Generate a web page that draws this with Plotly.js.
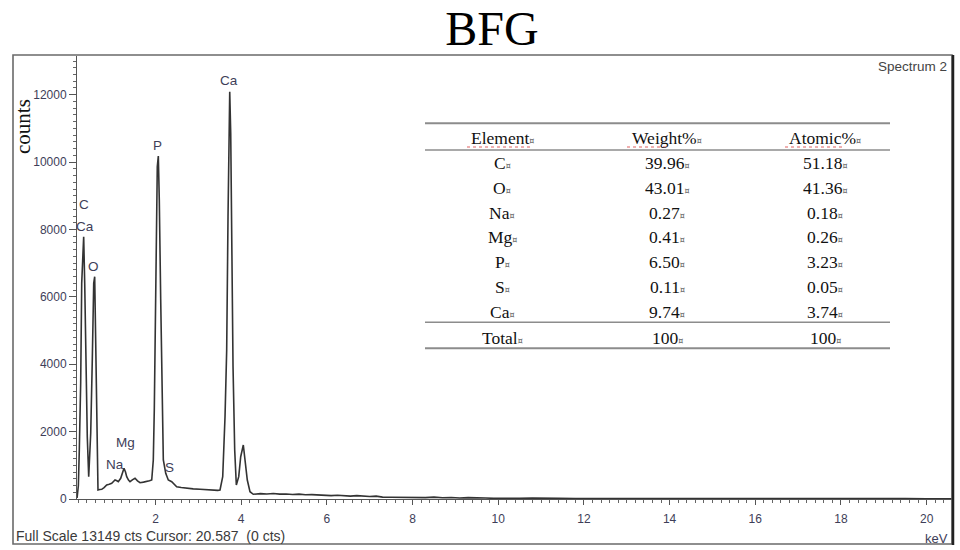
<!DOCTYPE html>
<html>
<head>
<meta charset="utf-8">
<script src="https://cdn.plot.ly/plotly-3.0.1.min.js"></script>
<style>
  html, body { margin: 0; padding: 0; background: #ffffff; }
  #chart { width: 960px; height: 550px; }
</style>
</head>
<body>
<div id="chart"></div>
<script>
// ---- spectrum data (keV, counts) ----
const energy = [
  0.17, 0.20, 0.222, 0.254, 0.278, 0.301, 0.324, 0.348, 0.378, 0.408,
  0.441, 0.488, 0.525, 0.558, 0.581, 0.605, 0.628, 0.658, 0.70, 0.745,
  0.80, 0.861, 0.92, 0.978, 1.02, 1.055, 1.10, 1.132, 1.188, 1.23,
  1.265, 1.30, 1.328, 1.37, 1.405, 1.46, 1.522, 1.58, 1.639, 1.72,
  1.795, 1.86, 1.912, 1.949, 1.972, 1.996, 2.019, 2.042, 2.066, 2.089,
  2.122, 2.152, 2.183, 2.239, 2.299, 2.379, 2.44, 2.495, 2.6, 2.729,
  2.88, 3.039, 3.2, 3.35, 3.45, 3.506, 3.569, 3.623, 3.662, 3.693,
  3.716, 3.733, 3.756, 3.779, 3.810, 3.849, 3.887, 3.943, 3.989, 4.050,
  4.097, 4.143, 4.206, 4.283,
  4.45, 4.6, 4.75, 4.9, 5.05, 5.2, 5.35, 5.5, 5.65, 5.8,
  5.95, 6.1, 6.25, 6.4, 6.55, 6.7, 6.85, 7.0, 7.15, 7.3,
  7.5, 7.7, 7.9, 8.1, 8.3, 8.5, 8.7, 8.9, 9.1, 9.3,
  9.5, 9.7, 9.9, 10.2, 10.5, 10.8, 11.1, 11.4, 11.8, 12.2,
  12.6, 13.0, 13.5, 14.0, 14.5, 15.0, 15.5, 16.0, 16.5, 17.0,
  17.5, 18.0, 18.5, 19.0, 19.5, 20.0, 20.6
];
const counts = [
  30, 400, 1454, 3434, 6402, 7488, 7785, 6402, 3630, 1849,
  662, 1950, 4126, 6402, 6598, 4422, 2146, 267, 280, 288,
  340, 416, 440, 466, 520, 564, 540, 513, 614, 780,
  911, 800, 662, 560, 513, 570, 614, 540, 484, 500,
  513, 540, 564, 1158, 2642, 4918, 8379, 9863, 10180, 8874,
  5906, 2938, 1158, 763, 564, 513, 420, 365, 340, 318,
  300, 288, 270, 246, 255, 267, 662, 2443, 4422, 8379,
  11347, 12089, 10854, 7390, 3927, 1454, 416, 662, 1255, 1603,
  1158, 564, 217, 140,
  160, 150, 165, 145, 150, 135, 145, 125, 130, 115,
  120, 100, 110, 95, 85, 100, 80, 75, 85, 55,
  50, 45, 40, 35, 40, 55, 35, 45, 30, 40,
  25, 30, 20, 30, 20, 25, 15, 20, 15, 20,
  12, 15, 10, 12, 8, 10, 8, 12, 8, 10,
  8, 10, 12, 8, 10, 8, 6
];

// ---- peak labels ----
const peakLabels = ["C", "Ca", "O", "Na", "Mg", "P", "S", "Ca"];
const peakLabelEnergy = [0.331, 0.355, 0.549, 1.055, 1.289, 2.042, 2.323, 3.723];
const peakLabelCounts = [8756, 8103, 6915, 1030, 1671, 10486, 929, 12415];

// ---- composition table ----
const tableHeaders = ["Element", "Weight%", "Atomic%"];
const tableElements = ["C", "O", "Na", "Mg", "P", "S", "Ca"];
const weightPct = ["39.96", "43.01", "0.27", "0.41", "6.50", "0.11", "9.74"];
const atomicPct = ["51.18", "41.36", "0.18", "0.26", "3.23", "0.05", "3.74"];
const totalRow = ["Total", "100", "100"];

// ---- axis info ----
const xRange = [0.168, 20.615];
const yRange = [0, 13149];
const fullScaleText = "Full Scale 13149 cts Cursor: 20.587\u00a0\u00a0(0 cts)";

// ---- layout helpers (pixel -> paper) ----
const W = 960, H = 550;
const M = { l: 77, r: 7, t: 56, b: 51 };
const PW = W - M.l - M.r, PH = H - M.t - M.b;
const px = (x) => (x - M.l) / PW;
const py = (y) => (H - M.b - y) / PH;

const sans = "Liberation Sans, Arial, sans-serif";
const serif = "Liberation Serif, Times New Roman, serif";
const labelColor = "#3e3e58";

const annotations = [];
const shapes = [];

// peak labels
peakLabels.forEach((t, i) => {
  annotations.push({
    x: peakLabelEnergy[i], y: peakLabelCounts[i], xref: "x", yref: "y",
    text: t, showarrow: false, xanchor: "center", yanchor: "middle",
    font: { family: sans, size: 13.5, color: labelColor }
  });
});

// frame
shapes.push({ type: "rect", xref: "paper", yref: "paper",
  x0: px(13), x1: px(952), y0: py(544), y1: py(55),
  line: { color: "#6a6a6a", width: 1.6 } });
shapes.push({ type: "line", xref: "paper", yref: "paper",
  x0: px(953), x1: px(953), y0: py(545), y1: py(55),
  line: { color: "#222222", width: 2.5 } });

// table
const tx0 = px(425), tx1 = px(890);
[[123.3, 2], [150, 1.6], [322.3, 1.6], [348.3, 2]].forEach(([y, w]) => {
  shapes.push({ type: "line", xref: "paper", yref: "paper",
    x0: tx0, x1: tx1, y0: py(y), y1: py(y),
    line: { color: "#8c8c8c", width: w } });
});
// spell-check squiggles under headers
[[467, 530], [627, 668], [785, 842]].forEach(([a, b]) => {
  shapes.push({ type: "line", xref: "paper", yref: "paper",
    x0: px(a), x1: px(b), y0: py(147), y1: py(147),
    line: { color: "#e06060", width: 1, dash: "dot" } });
});
const colX = [502, 667, 825];
const mark = '<span style="font-family:DejaVu Sans;font-size:8px;fill:#555555">\u00a4</span>';
const cellFont = { family: serif, size: 17.5, color: "#111111" };
function cell(text, col, y) {
  annotations.push({
    x: px(colX[col]), y: py(y), xref: "paper", yref: "paper",
    text: text + mark, showarrow: false, xanchor: "center", yanchor: "middle",
    font: cellFont
  });
}
tableHeaders.forEach((h, c) => cell(h, c, 138.3));
tableElements.forEach((e, r) => {
  const y = 163.3 + r * 24.73;
  cell(e, 0, y);
  cell(weightPct[r], 1, y);
  cell(atomicPct[r], 2, y);
});
totalRow.forEach((t, c) => cell(t, c, 338.3));

// texts around plot
annotations.push({ x: px(23), y: py(127), xref: "paper", yref: "paper",
  text: "counts", textangle: -90, showarrow: false,
  xanchor: "center", yanchor: "middle",
  font: { family: serif, size: 21, color: "#111111" } });
annotations.push({ x: px(949), y: py(66), xref: "paper", yref: "paper",
  text: "Spectrum 2", showarrow: false, xanchor: "right", yanchor: "middle",
  font: { family: sans, size: 13.5, color: "#444444" } });
annotations.push({ x: px(14), y: py(536), xref: "paper", yref: "paper",
  text: fullScaleText, showarrow: false, xanchor: "left", yanchor: "middle",
  font: { family: sans, size: 14, color: "#3a3a3a" } });
annotations.push({ x: px(950), y: py(538), xref: "paper", yref: "paper",
  text: "keV", showarrow: false, xanchor: "right", yanchor: "middle",
  font: { family: sans, size: 13, color: labelColor } });

const trace = {
  x: energy, y: counts, type: "scatter", mode: "lines",
  line: { color: "#333333", width: 1.6 },
  hoverinfo: "skip"
};

const layout = {
  width: W, height: H,
  margin: M,
  paper_bgcolor: "#ffffff", plot_bgcolor: "#ffffff",
  showlegend: false,
  title: {
    text: "BFG", x: 492 / W, xanchor: "center",
    y: 1 - 28 / H, yanchor: "middle",
    font: { family: serif, size: 48, color: "#000000" }
  },
  xaxis: {
    range: xRange, showgrid: false, zeroline: false,
    showline: true, linecolor: "#555555", linewidth: 1,
    tick0: 0, dtick: 2, ticks: "outside", ticklen: 5, tickcolor: "#555555",
    minor: { dtick: 0.2, tick0: 0, ticks: "outside", ticklen: 3, tickcolor: "#666666" },
    tickfont: { family: sans, size: 12, color: labelColor },
    ticklabelstandoff: 4,
    fixedrange: true
  },
  yaxis: {
    range: yRange, showgrid: false, zeroline: false,
    showline: true, linecolor: "#555555", linewidth: 1,
    tick0: 0, dtick: 2000, tickformat: "d",
    ticks: "outside", ticklen: 7, tickcolor: "#555555",
    minor: { dtick: 200, tick0: 0, ticks: "outside", ticklen: 3, tickcolor: "#666666" },
    tickfont: { family: sans, size: 12, color: labelColor },
    fixedrange: true
  },
  annotations: annotations,
  shapes: shapes
};

Plotly.newPlot("chart", [trace], layout, { staticPlot: true, displayModeBar: false });
</script>
</body>
</html>
